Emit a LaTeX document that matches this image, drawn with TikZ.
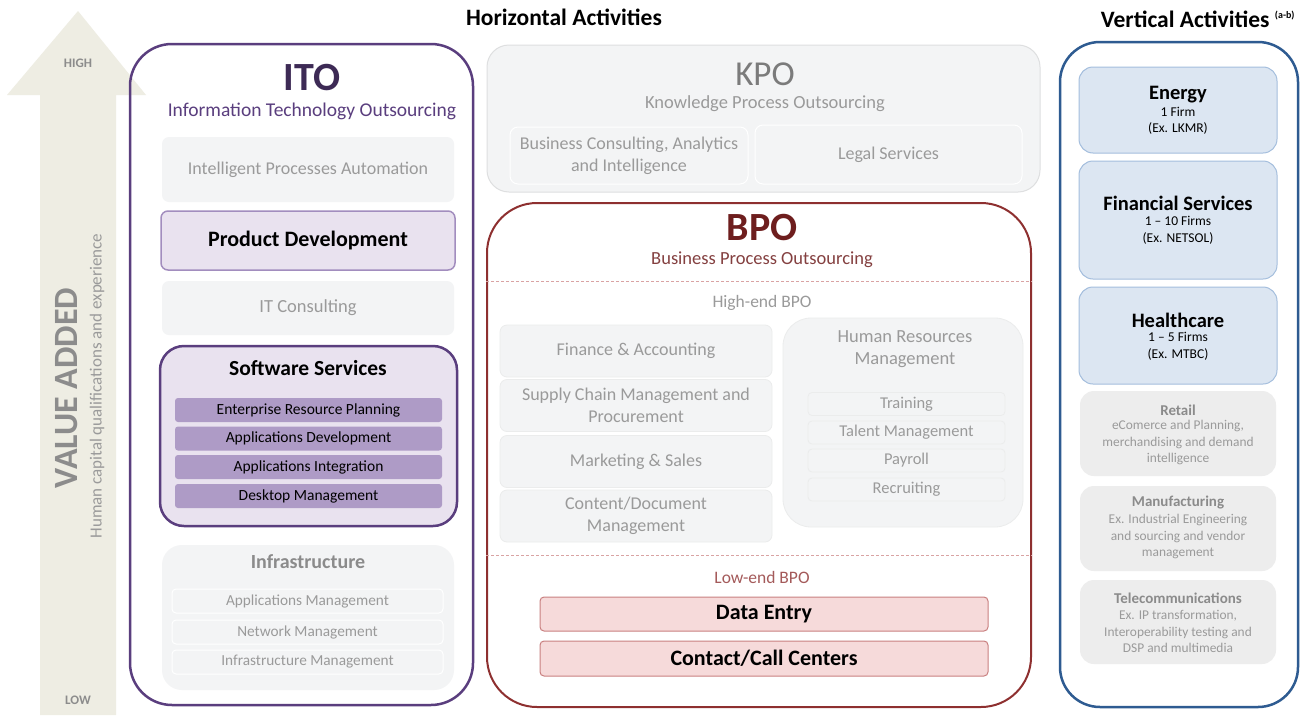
\documentclass[tikz,border=0pt]{standalone}
\usepackage{fontspec}
\setmainfont{Carlito}
\usetikzlibrary{positioning}

\definecolor{arrowbeige}{HTML}{EEEDE3}
\definecolor{arrowtext}{HTML}{8C8C8C}
\definecolor{itopurple}{HTML}{5A3E7E}
\definecolor{itotitle}{HTML}{3D2A55}
\definecolor{lightpurple}{HTML}{E9E2EF}
\definecolor{midpurple}{HTML}{AE9BC6}
\definecolor{pdborder}{HTML}{A28DBE}
\definecolor{tilegray}{HTML}{F3F4F5}
\definecolor{tileedge}{HTML}{DEDFE0}
\definecolor{greytext}{HTML}{9A9A9A}
\definecolor{bpored}{HTML}{8E3030}
\definecolor{bpotitle}{HTML}{6E1E1E}
\definecolor{bpodash}{HTML}{D9A3A3}
\definecolor{pinkfill}{HTML}{F6DADA}
\definecolor{pinkedge}{HTML}{C98080}
\definecolor{vblue}{HTML}{2E5B91}
\definecolor{bluefill}{HTML}{DCE6F2}
\definecolor{blueedge}{HTML}{A4BEDD}
\definecolor{vgray}{HTML}{EDEDED}

\newcommand{\fsz}[2]{\fontsize{#1}{#2}\selectfont}

\tikzset{
  tile/.style={rounded corners=7pt, fill=tilegray, text=greytext, align=center, inner sep=0pt},
  subtile/.style={tile, draw=white, line width=1pt, rounded corners=4pt},
  swbar/.style={rounded corners=3pt, fill=midpurple, minimum width=267pt, minimum height=24pt, inner sep=0pt, font=\fsz{15.5}{18}},
  pinkbar/.style={rounded corners=4pt, fill=pinkfill, draw=pinkedge, line width=1pt, minimum width=448pt, inner sep=0pt, font=\bfseries\fsz{22}{24}},
  bluebox/.style={rounded corners=14pt, fill=bluefill, draw=blueedge, line width=1pt, minimum width=198pt, inner sep=0pt},
  greybox/.style={rounded corners=14pt, fill=vgray, minimum width=196pt, inner sep=0pt},
  vtitle/.style={font=\bfseries\fsz{20.5}{23}},
  vdetail/.style={align=center, font=\fsz{13.5}{16.5}},
  gtitle/.style={font=\bfseries\fsz{15}{17}, text=greytext!90!black},
  gdetail/.style={align=center, font=\fsz{13.4}{16.5}, text=greytext}
}

\begin{document}
\begin{tikzpicture}[x=1pt,y=-1pt]
  \useasboundingbox[fill=white] (0,0) rectangle (1314,715);
  %
  % value added arrow
  \fill[arrowbeige] (40,715) -- (40,95) -- (7,95) -- (78,11) -- (146,95) -- (116,95) -- (116,715) -- cycle;
  \node[font=\bfseries\fsz{13}{14}, text=arrowtext] (high) at (78,63) {HIGH};
  \node[font=\bfseries\fsz{13}{14}, text=arrowtext] (low) at (78,700) {LOW};
  \node[rotate=90, font=\bfseries\fsz{34}{38}, text=arrowtext] (valadd) at (67,388) {VALUE ADDED};
  \node[rotate=90, font=\fsz{17}{20}, text=greytext] (human) at (97,386) {Human capital qualifications and experience};
  %
  % headers
  \node[font=\bfseries\fsz{23.5}{26}] (horiz) at (564,17) {Horizontal Activities};
  \node[font=\bfseries\fsz{23.5}{26}] (vert) at (1198,19) {Vertical Activities \textsuperscript{\fsz{10}{12}(a-b)}};
  %
  % ITO
  \node[draw=itopurple, line width=2.5pt, rounded corners=42pt, minimum width=343pt, minimum height=661pt] (ito) at (301.5,374.5) {};
  \node[font=\bfseries\fsz{40}{44}, text=itotitle] (itoname) at (312,78) {ITO};
  \node[font=\fsz{19.5}{22}, text=itopurple] (itolong) at (312,111) {Information Technology Outsourcing};
  \node[tile, minimum width=292pt, minimum height=65pt, font=\fsz{18}{21}] (ipa) at (308,169.5) {Intelligent Processes Automation};
  \node[tile, fill=lightpurple, draw=pdborder, line width=1.5pt, text=black, minimum width=294pt, minimum height=59pt, font=\bfseries\fsz{22}{25}] (proddev) at (308,240.5) {Product Development};
  \node[tile, minimum width=292pt, minimum height=54pt, font=\fsz{18.5}{21}] (itcons) at (308,308) {IT Consulting};
  \node[tile, fill=lightpurple, draw=itopurple, line width=2.5pt, rounded corners=24pt, minimum width=297pt, minimum height=180pt] (softserv) at (308.5,436) {};
  \node[font=\bfseries\fsz{21.5}{24}] (softtitle) at (308,368) {Software Services};
  \foreach \name/\txt/\y in {erp/Enterprise Resource Planning/410, appdev/Applications Development/438.5, appint/Applications Integration/467, desktop/Desktop Management/496}
    \node[swbar] (\name) at (308.5,\y) {\txt};
  \node[tile, rounded corners=20pt, minimum width=292pt, minimum height=145pt] (infra) at (308,617.5) {};
  \node[font=\bfseries\fsz{20}{23}, text=greytext!90!black] (infratitle) at (308,562) {Infrastructure};
  \foreach \name/\txt/\y in {appmgmt/Applications Management/601, netmgmt/Network Management/632, inframgmt/Infrastructure Management/662}
    \node[subtile, minimum width=271pt, minimum height=24pt, font=\fsz{15.3}{18}] (\name) at (307.5,\y) {\txt};
  %
  % KPO
  \node[tile, draw=tileedge, line width=1pt, rounded corners=22pt, minimum width=553pt, minimum height=147pt] (kpo) at (763.5,118.5) {};
  \node[font=\fsz{35}{38}, text=greytext!80!black] (kponame) at (765,74) {KPO};
  \node[font=\fsz{18.5}{21}, text=greytext] (kpolong) at (765,104) {Knowledge Process Outsourcing};
  \node[subtile, rounded corners=8pt, minimum width=238pt, minimum height=57pt, font=\fsz{18}{22}] (bca) at (629,155.5) {Business Consulting, Analytics\\and Intelligence};
  \node[subtile, rounded corners=8pt, minimum width=267pt, minimum height=59pt, font=\fsz{18}{22}] (legal) at (888.5,154.5) {Legal Services};
  %
  % BPO
  \node[draw=bpored, line width=2pt, rounded corners=50pt, minimum width=544pt, minimum height=504pt] (bpo) at (759,455) {};
  \node[font=\bfseries\fsz{40}{44}, text=bpotitle] (bponame) at (762,228) {BPO};
  \node[font=\fsz{18.5}{21}, text=bpotitle!85!white] (bpolong) at (762,260) {Business Process Outsourcing};
  \coordinate (hisep) at (762,281);
  \coordinate (losep) at (762,555);
  \draw[bpodash, densely dashed, line width=0.8pt] (bpo.west |- hisep) -- (bpo.east |- hisep);
  \draw[bpodash, densely dashed, line width=0.8pt] (bpo.west |- losep) -- (bpo.east |- losep);
  \node[font=\fsz{17.5}{20}, text=greytext] (highend) at (762,303) {High-end BPO};
  \foreach \name/\txt/\y in {finacc/{Finance \& Accounting}/351, scm/{Supply Chain Management and\\Procurement}/405.5, mktsales/{Marketing \& Sales}/461.5, content/{Content/Document\\Management}/516}
    \node[tile, draw=tileedge!60!white, line width=0.8pt, minimum width=272pt, minimum height=52pt, font=\fsz{18}{22}] (\name) at (636,\y) {\txt};
  \node[tile, draw=tileedge!60!white, line width=0.8pt, rounded corners=28pt, minimum width=240pt, minimum height=209pt] (hrm) at (903,422.5) {};
  \node[align=center, font=\fsz{18.5}{22}, text=greytext] (hrmtitle) at (905,349) {Human Resources\\Management};
  \foreach \name/\txt/\y in {training/Training/404, talent/Talent Management/432.5, payroll/Payroll/460.5, recruit/Recruiting/489.5}
    \node[subtile, draw=tileedge!60!white, line width=0.8pt, minimum width=197pt, minimum height=23pt, font=\fsz{16.5}{18}] (\name) at (906.5,\y) {\txt};
  \node[font=\fsz{17.5}{20}, text=bpored!80!white] (lowend) at (762,577) {Low-end BPO};
  \node[pinkbar, minimum height=34pt] (dataentry) at (764,614) {Data Entry};
  \node[pinkbar, minimum height=35pt] (callcenter) at (764,658.5) {Contact/Call Centers};
  %
  % vertical activities
  \node[draw=vblue, line width=2.5pt, rounded corners=40pt, minimum width=238pt, minimum height=665pt] (vbox) at (1179,374.5) {};
  \node[bluebox, minimum height=86pt] (energy) at (1178,110) {};
  \node[vtitle] (energyname) at (1178,95) {Energy};
  \node[vdetail] (energyinfo) at (1178,121) {1 Firm\\(Ex. LKMR)};
  \node[bluebox, minimum height=118pt] (finserv) at (1178,220) {};
  \node[vtitle] (finservname) at (1178,203) {Financial Services};
  \node[vdetail] (finservinfo) at (1178,230.5) {1 -- 10 Firms\\(Ex. NETSOL)};
  \node[bluebox, minimum height=97pt] (health) at (1178,335.5) {};
  \node[vtitle] (healthname) at (1178,320) {Healthcare};
  \node[vdetail] (healthinfo) at (1178,346.5) {1 -- 5 Firms\\(Ex. MTBC)};
  \node[greybox, minimum height=85pt] (retail) at (1178,433.5) {};
  \node[gtitle] (retailname) at (1178,410) {Retail};
  \node[gdetail] (retailinfo) at (1178,442.5) {eComerce and Planning,\\merchandising and demand\\intelligence};
  \node[greybox, minimum height=85pt] (manuf) at (1178,528.5) {};
  \node[gtitle] (manufname) at (1178,503) {Manufacturing};
  \node[gdetail] (manufinfo) at (1178,536.5) {Ex. Industrial Engineering\\and sourcing and vendor\\management};
  \node[greybox, minimum height=84pt] (telecom) at (1178,622) {};
  \node[gtitle] (telecomname) at (1178,598) {Telecommunications};
  \node[gdetail] (telecominfo) at (1178,631.5) {Ex. IP transformation,\\Interoperability testing and\\DSP and multimedia};
\end{tikzpicture}
\end{document}
